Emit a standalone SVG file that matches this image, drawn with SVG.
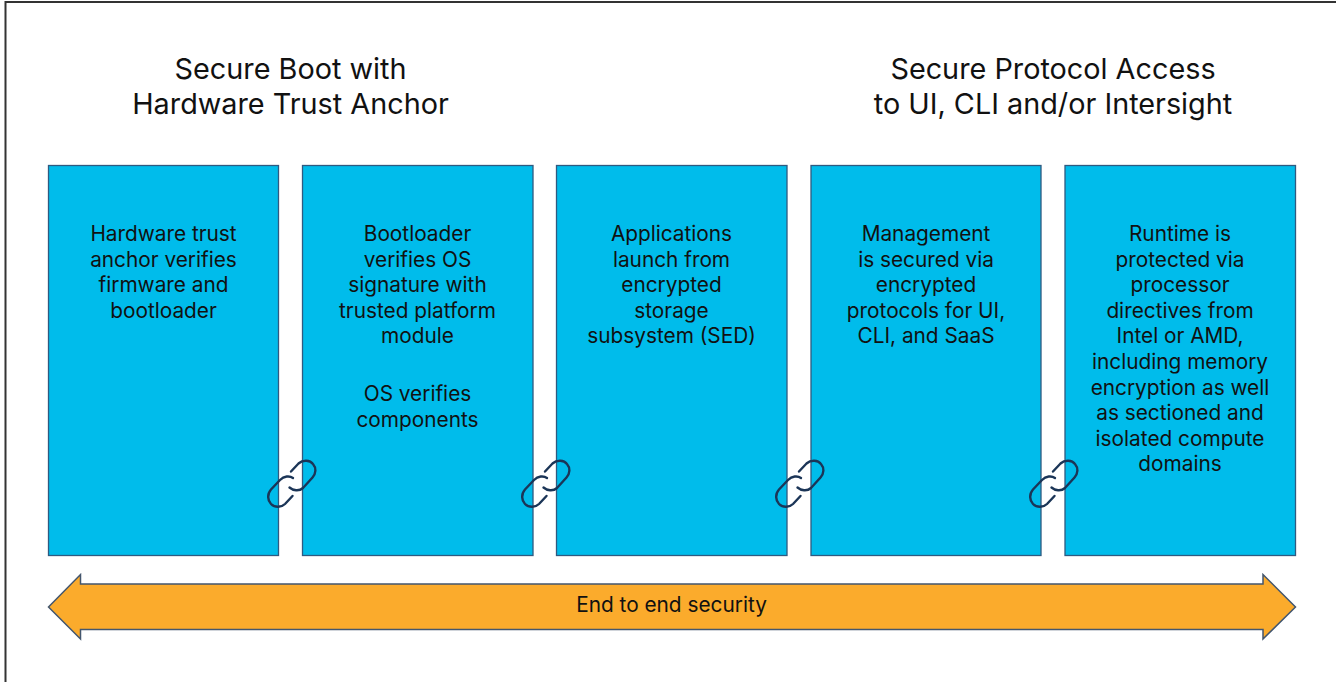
<svg xmlns="http://www.w3.org/2000/svg" width="1336" height="682" viewBox="0 0 1336 682">
<style>
text{font-family:Inter,"Liberation Sans",Arial,sans-serif;fill:#111;text-anchor:middle}
.h{font-size:28.800px}
.b{font-size:20.800px}
.box{fill:#00bceb;stroke:#2f5a80;stroke-width:1.3}
.link{fill:none;stroke:#1b3557;stroke-width:2.400;stroke-linecap:round}
</style>
<rect width="1336" height="682" fill="#fff"/>
<path d="M5.500 682V2H1336" fill="none" stroke="#333" stroke-width="2"/>
<g id="title-left"><text class="h" x="290.500" y="78.500">Secure Boot with</text><text class="h" x="290.500" y="113.500">Hardware Trust Anchor</text></g>
<g id="title-right"><text class="h" x="1053" y="78.500">Secure Protocol Access</text><text class="h" x="1053" y="113.500">to UI, CLI and/or Intersight</text></g>
<g id="node-1"><rect class="box" x="48.500" y="165.500" width="230" height="390"/>
<text class="b" x="163.500" y="241">Hardware trust</text><text class="b" x="163.500" y="266.600">anchor verifies</text><text class="b" x="163.500" y="292.200">firmware and</text><text class="b" x="163.500" y="317.800">bootloader</text></g>
<g id="node-2"><rect class="box" x="302.500" y="165.500" width="230.500" height="390"/>
<text class="b" x="417.500" y="241">Bootloader</text><text class="b" x="417.500" y="266.600">verifies OS</text><text class="b" x="417.500" y="292.200">signature with</text><text class="b" x="417.500" y="317.800">trusted platform</text><text class="b" x="417.500" y="343.400">module</text><text class="b" x="417.500" y="401">OS verifies</text><text class="b" x="417.500" y="426.600">components</text></g>
<g id="node-3"><rect class="box" x="556.500" y="165.500" width="230.500" height="390"/>
<text class="b" x="671.500" y="241">Applications</text><text class="b" x="671.500" y="266.600">launch from</text><text class="b" x="671.500" y="292.200">encrypted</text><text class="b" x="671.500" y="317.800">storage</text><text class="b" x="671.500" y="343.400">subsystem (SED)</text></g>
<g id="node-4"><rect class="box" x="811" y="165.500" width="230" height="390"/>
<text class="b" x="926" y="241">Management</text><text class="b" x="926" y="266.600">is secured via</text><text class="b" x="926" y="292.200">encrypted</text><text class="b" x="926" y="317.800">protocols for UI,</text><text class="b" x="926" y="343.400">CLI, and SaaS</text></g>
<g id="node-5"><rect class="box" x="1065" y="165.500" width="230.500" height="390"/>
<text class="b" x="1180" y="241">Runtime is</text><text class="b" x="1180" y="266.600">protected via</text><text class="b" x="1180" y="292.200">processor</text><text class="b" x="1180" y="317.800">directives from</text><text class="b" x="1180" y="343.400">Intel or AMD,</text><text class="b" x="1180" y="369">including memory</text><text class="b" x="1180" y="394.600">encryption as well</text><text class="b" x="1180" y="420.200">as sectioned and</text><text class="b" x="1180" y="445.800">isolated compute</text><text class="b" x="1180" y="471.400">domains</text></g>
<defs>
<g id="chain"><path class="link" d="M291 471.500L298.500 463.500C303 459.500 310 460 313 464C316.500 468 316 473.500 312.500 477.500L303 488C299 491.500 293 490.500 289.500 487.500"/><path class="link" d="M293 478C289.500 475.500 284 476 280 480L271 489.500C267 494 267.500 500.500 271 504C275 508 281.500 507.500 285 504L292.500 496"/></g>
</defs>
<g id="connectors"><use href="#chain"/><use href="#chain" x="254"/><use href="#chain" x="508"/><use href="#chain" x="762"/></g>
<g id="end-to-end"><path d="M48.500 607L80.500 574.500V584H1263V574.500L1295.500 607L1263 639V629.500H80.500V639Z" fill="#fbab2c" stroke="#43566e" stroke-width="1.500"/><text x="671.500" y="612" font-size="20.800px">End to end security</text></g>
</svg>
